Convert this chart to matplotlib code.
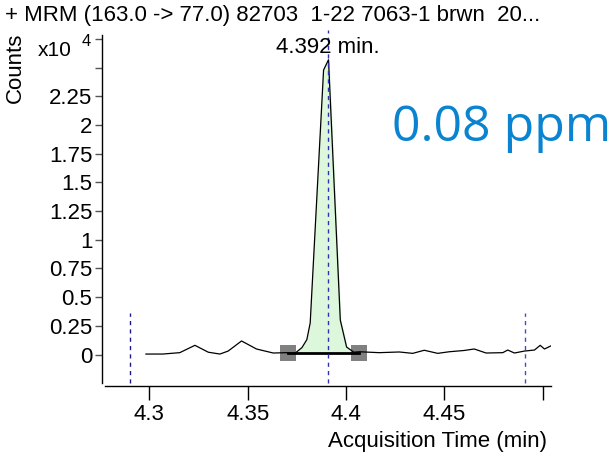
import matplotlib
matplotlib.use("Agg")
import matplotlib.pyplot as plt
from matplotlib.ticker import FixedLocator, FixedFormatter

plt.rcParams['font.family'] = ['Liberation Sans', 'DejaVu Sans']

# ---- data ----
title_text = "+ MRM (163.0 -> 77.0) 82703  1-22 7063-1 brwn  20..."
time_min = [4.2983, 4.3068, 4.3155, 4.3232, 4.3300, 4.3359, 4.3401, 4.3469,
            4.3545, 4.3630, 4.3698, 4.3740, 4.3776, 4.3801, 4.3818, 4.3886,
            4.3911, 4.3971, 4.4003, 4.4040, 4.4067, 4.4169, 4.4271, 4.4339,
            4.4398, 4.4466, 4.4525, 4.4600, 4.4652, 4.4712, 4.4797, 4.4822,
            4.4856, 4.4907, 4.4958, 4.4987, 4.5009, 4.5040]
counts_e4 = [0.004, 0.004, 0.016, 0.080, 0.020, 0.004, 0.030, 0.118,
             0.048, 0.013, 0.016, 0.010, 0.060, 0.130, 0.275, 2.480,
             2.570, 0.300, 0.065, 0.020, 0.024, 0.016, 0.022, 0.010,
             0.037, 0.010, 0.024, 0.035, 0.048, 0.013, 0.016, 0.039,
             0.013, 0.030, 0.039, 0.080, 0.048, 0.074]
integ_start, integ_end = 4.3703, 4.4068
baseline_level = 0.012
rt_line = 4.3907
rt_label = "4.392 min."
window_left, window_right = 4.2903, 4.4910
y_ticks = [0, 0.25, 0.5, 0.75, 1, 1.25, 1.5, 1.75, 2, 2.25, 2.5, 2.75]
y_ticklabels = ["0", "0.25", "0.5", "0.75", "1", "1.25", "1.5", "1.75", "2", "2.25", "", ""]
x_ticks = [4.3, 4.35, 4.4, 4.45, 4.5]
x_ticklabels = ["4.3", "4.35", "4.4", "4.45", ""]
conc_text = "0.08 ppm"

FS = 16
W, H = 614, 454
fig = plt.figure(figsize=(W / 100, H / 100), dpi=100)
ax = fig.add_axes([105 / W, (H - 386) / H, (551 - 105) / W, (386 - 35) / H])
ax.set_xlim(4.2775, 4.5042)
ax.set_ylim(-0.2746, 2.7856)

for s in ['top', 'right']:
    ax.spines[s].set_visible(False)
ax.spines['left'].set_position(('outward', 2))
ax.spines['left'].set_bounds(-0.25, 2.7856)
ax.spines['left'].set_linewidth(1.0)
ax.spines['bottom'].set_linewidth(1.0)

ax.yaxis.set_major_locator(FixedLocator(y_ticks))
ax.yaxis.set_major_formatter(FixedFormatter(y_ticklabels))
ax.xaxis.set_major_locator(FixedLocator(x_ticks))
ax.xaxis.set_major_formatter(FixedFormatter(x_ticklabels))
ax.tick_params(axis='y', length=5, width=1, pad=2, labelsize=FS, color='#555555')
ax.tick_params(axis='x', length=10, width=1, pad=3, labelsize=FS)

# fill integrated area
sel_t = [t for t in time_min if integ_start <= t <= integ_end]
sel_c = [c for t, c in zip(time_min, counts_e4) if integ_start <= t <= integ_end]
ax.fill_between(sel_t, sel_c, baseline_level, color='#dcf7dc', zorder=1)

ax.plot(time_min, counts_e4, color='black', lw=0.9, zorder=3)

# baseline
ax.plot([integ_start, integ_end], [baseline_level, baseline_level], color='black', lw=2, zorder=4)
ax.plot([integ_start, integ_end], [baseline_level, baseline_level], ls='none', marker='s',
        markersize=12, color='#808080', markeredgewidth=0, zorder=2)

# dashed lines
ax.plot([window_left, window_left], [-0.25, 0.36], color='#1a1a8a', lw=1, ls=(0, (3, 3)), zorder=2)
ax.plot([window_right, window_right], [-0.25, 0.36], color='#4a4ab8', lw=1, ls=(0, (3, 3)), zorder=2)
ax.plot([rt_line, rt_line], [-0.25, 2.83], color='#3030b0', lw=1, ls=(0, (3, 3)), zorder=5,
        clip_on=False)

ax.text(rt_line, 2.68, rt_label, ha='center', va='center', fontsize=FS, zorder=6)

ax.set_xlabel("Acquisition Time (min)", fontsize=FS)
ax.xaxis.set_label_coords((547 - 105) / (551 - 105), -(441 - 386) / (386 - 35))
ax.xaxis.label.set_horizontalalignment('right')
ax.xaxis.label.set_verticalalignment('center')

fig.text(5 / W, 1 - 15 / H, title_text, ha='left', va='center', fontsize=FS)
fig.text(15 / W, 1 - 68 / H, "Counts", ha='center', va='center', rotation=90, fontsize=FS)
fig.text(55 / W, 1 - 50 / H, "x10", ha='center', va='center', fontsize=15)
fig.text(86 / W, 1 - 41 / H, "4", ha='center', va='center', fontsize=12)

fig.text(502 / W, 1 - 128 / H, conc_text, ha='center', va='center', fontsize=36,
         color='#0a84d0', family=['Open Sans', 'DejaVu Sans'])

fig.savefig("out.png", dpi=100)
